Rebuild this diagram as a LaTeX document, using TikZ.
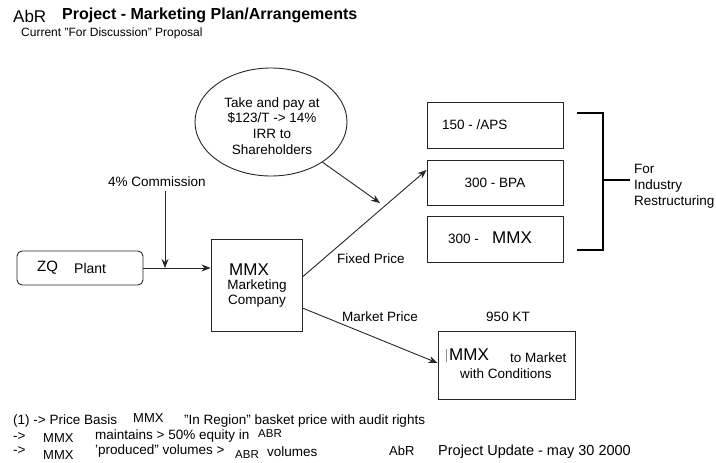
\documentclass[tikz,border=0pt]{standalone}
\usepackage{fontspec}
\setmainfont{Liberation Sans}
\usetikzlibrary{arrows.meta,shapes.geometric}
\tikzset{
  ln/.style={draw=black!85, line width=0.9pt},
  arr/.style={ln, -{Stealth[length=9pt,width=7pt]}},
  box/.style={draw=black!85, line width=0.9pt, rectangle, inner sep=0pt},
  lbl/.style={inner sep=0pt, font=\fontsize{13.5}{16}\selectfont},
  note/.style={inner sep=0pt, anchor=west, font=\fontsize{13.5}{14}\selectfont},
  notesm/.style={inner sep=0pt, anchor=west, font=\fontsize{13}{14}\selectfont},
  abrsm/.style={inner sep=0pt, anchor=west, font=\fontsize{11.5}{13}\selectfont},
  mmx/.style={inner sep=0pt, font=\fontsize{17}{19}\selectfont},
}
\begin{document}
\begin{tikzpicture}[x=1pt,y=-1pt]
\useasboundingbox (0,0) rectangle (716,463);
% title
\node[inner sep=0pt, anchor=west, font=\fontsize{17}{19}\selectfont] (abr) at (13,16) {AbR};
\node[inner sep=0pt, anchor=west, font=\fontsize{16}{19}\selectfont\bfseries] (title) at (62,15) {Project - Marketing Plan/Arrangements};
\node[inner sep=0pt, anchor=west, font=\fontsize{12}{14}\selectfont] (sub) at (21,33) {Current "For Discussion" Proposal};
% ellipse
\node[ellipse, draw=black!85, line width=0.9pt, minimum width=152pt, minimum height=108pt, inner sep=0pt] (ell) at (271,122) {};
\node[inner sep=0pt, align=center, font=\fontsize{13.5}{15.8}\selectfont] (elltext) at (272,126) {Take and pay at\\\$123/T -> 14\%\\IRR to\\Shareholders};
% right boxes
\node[box, minimum width=136pt, minimum height=46pt] (aps) at (495,125) {};
\node[lbl, anchor=west] (apst) at (442,125) {150 - /APS};
\node[box, minimum width=136pt, minimum height=45pt] (bpa) at (495,182.5) {};
\node[lbl] (bpat) at (495,182.5) {300 - BPA};
\node[box, minimum width=136pt, minimum height=46pt] (mmx3) at (495,239) {};
\node[lbl, anchor=west] (mmx3t) at (448,239) {300 -};
\node[mmx, anchor=west] (mmx3m) at (492,238) {MMX};
% bracket
\coordinate (b1) at (577,113);
\coordinate (b2) at (603,113);
\coordinate (b3) at (603,250);
\coordinate (b4) at (577,250);
\coordinate (bm) at (603,180);
\coordinate (bt) at (630,180);
\draw[draw=black, line width=1.8pt] (b1) -- (b2) -- (b3) -- (b4);
\draw[draw=black, line width=1.8pt] (bm) -- (bt);
\node[lbl, anchor=west, align=left, font=\fontsize{13.5}{16}\selectfont] (ind) at (634,186) {For\\Industry\\Restructuring};
% left
\node[box, rounded corners=5pt, minimum width=126pt, minimum height=34pt] (zq) at (80,268) {};
\node[inner sep=0pt, anchor=west, font=\fontsize{15}{17}\selectfont] (zqt) at (37,268) {ZQ};
\node[lbl, anchor=west, font=\fontsize{14}{16}\selectfont] (plant) at (74,268) {Plant};
\node[box, minimum width=91pt, minimum height=92pt] (co) at (256.5,285) {};
\node[mmx, anchor=west] (cot1) at (229,270) {MMX};
\node[lbl, align=center, font=\fontsize{13.5}{15}\selectfont] (cot2) at (257,294) {Marketing\\Company};
% commission
\node[lbl] (comm) at (157,182) {4\% Commission};
\coordinate (j) at (165,268);
\draw[arr] (zq.east) -- (zq.east -| co.west);
\draw[arr] (comm.south -| j) ++(0,4) -- (j);
% fixed price
\coordinate (tipA) at (380,203);
\draw[arr] ([yshift=8pt]co.east) -- ([yshift=12.5pt]bpa.west);
\draw[arr] (ell.-38) -- (tipA);
\node[lbl] (fixed) at (371,259) {Fixed Price};
% market price
\node[box, minimum width=137pt, minimum height=68pt] (mkt) at (506.5,365) {};
\draw[arr] ([yshift=-23pt]co.east) -- ([yshift=2pt]mkt.west);
\node[lbl] (mktp) at (380,317) {Market Price};
\node[lbl] (kt) at (508,317) {950 KT};
\draw[draw=black!45, line width=0.4pt] (446,349) -- (446,362);
\node[mmx, anchor=west] (mkt1) at (449,355) {MMX};
\node[lbl, anchor=west] (mkt2) at (510,358) {to Market};
\node[lbl] (mkt3) at (506,374) {with Conditions};
% notes
\node[note] (n1a) at (13,421) {(1) -> Price Basis};
\node[notesm] (n1b) at (133,418) {MMX};
\node[note] (n1c) at (184,421) {"In Region" basket price with audit rights};
\node[note] (n2a) at (13,437) {->};
\node[notesm] (n2b) at (43,438) {MMX};
\node[note] (n2c) at (95,436) {maintains > 50\% equity in};
\node[abrsm] (n2d) at (258,434) {ABR};
\node[note] (n3a) at (13,451) {->};
\node[notesm] (n3b) at (43,455) {MMX};
\node[note] (n3c) at (95,451) {'produced" volumes >};
\node[abrsm] (n3d) at (235,455) {ABR};
\node[note] (n3e) at (267,452) {volumes};
\node[notesm] (n3f) at (389,451) {AbR};
\node[note, font=\fontsize{14.5}{16}\selectfont] (n3g) at (438,452) {Project Update - may 30 2000};
\end{tikzpicture}
\end{document}
